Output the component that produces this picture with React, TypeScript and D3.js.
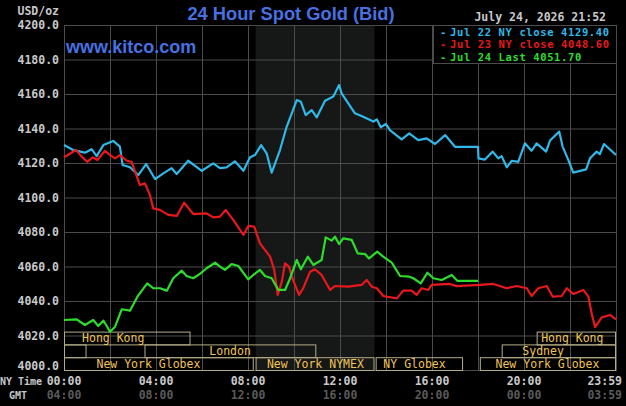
import React, { useEffect } from "react";
import * as d3 from "d3";

// hours since 00:00 NY time, price in USD/oz
const jul22: [number, number][] = [
  [0, 4130.4], [0.4, 4127.5], [0.91, 4126], [1.2, 4128], [1.42, 4124], [1.71, 4130.4],
  [2.14, 4132.8], [2.43, 4129.5], [2.55, 4118.8], [2.87, 4117.5], [3.23, 4113], [3.57, 4119.4],
  [3.96, 4110.7], [4.32, 4114], [4.68, 4117], [4.9, 4113.6], [5.4, 4121.3], [5.99, 4115.5],
  [6.49, 4119.8], [6.78, 4117], [7.07, 4117.5], [7.43, 4121], [7.8, 4115.5], [8.09, 4123.3],
  [8.3, 4124.6], [8.57, 4130.4], [8.81, 4125.6], [9.03, 4114.4], [9.39, 4127.5], [9.68, 4141],
  [10.12, 4156.5], [10.3, 4155.5], [10.51, 4147.8], [10.77, 4150.7], [10.99, 4146.5],
  [11.35, 4156.1], [11.71, 4158.5], [11.96, 4165.2], [12.07, 4160.4], [12.65, 4148.8],
  [13.01, 4146.8], [13.45, 4144], [13.6, 4145.3], [13.77, 4140.7], [14.0, 4142.6],
  [14.17, 4139.1], [14.68, 4133.7], [15.01, 4137.2], [15.4, 4133.3], [15.77, 4134.3],
  [16.13, 4131], [16.57, 4136.2], [17.0, 4129.4], [18.0, 4129.4], [18.02, 4122.7],
  [18.3, 4122], [18.64, 4126.6], [18.88, 4122.7], [19.03, 4124], [19.25, 4117.5],
  [19.47, 4121.3], [19.75, 4120.7], [20.04, 4131.4], [20.33, 4127.1], [20.55, 4131.4],
  [20.96, 4126.6], [21.13, 4133], [21.53, 4138.2], [21.68, 4129.5], [21.93, 4121.7],
  [22.14, 4114.4], [22.7, 4116.3], [22.87, 4122.7], [23.16, 4126.6], [23.3, 4125.2],
  [23.48, 4131], [24, 4124.6],
];

const jul23: [number, number][] = [
  [0, 4123.3], [0.52, 4127.5], [0.77, 4123.7], [1.01, 4120.7], [1.25, 4123.3], [1.45, 4121.7],
  [1.78, 4127.1], [2.0, 4124.6], [2.22, 4122.7], [2.43, 4124.6], [2.73, 4121.3], [2.94, 4120.7],
  [3.3, 4107.2], [3.52, 4108.2], [3.74, 4101.4], [3.88, 4093.7], [4.17, 4092.8], [4.53, 4089.9],
  [4.9, 4089.3], [5.22, 4097], [5.62, 4090.4], [6.2, 4090.8], [6.49, 4088.5], [6.78, 4088.9],
  [7.03, 4092.8], [7.36, 4087], [7.8, 4078.3], [8.01, 4083.5], [8.27, 4083.1], [8.52, 4073.4],
  [8.96, 4065.7], [9.14, 4058], [9.29, 4043.5], [9.47, 4051.2], [9.61, 4061.8], [9.78, 4059.9],
  [9.93, 4053.2], [10.22, 4043.5], [10.4, 4047.4], [10.7, 4057], [10.91, 4058.4], [11.2, 4055.1],
  [11.57, 4046.4], [11.78, 4048.7], [12.36, 4048.3], [12.94, 4049.3], [13.16, 4052.2],
  [13.38, 4048.3], [13.6, 4047.4], [13.88, 4042.9], [14.47, 4041.5], [14.75, 4046], [15.12, 4046],
  [15.33, 4043.5], [15.55, 4047.4], [15.84, 4046.4], [15.99, 4049.3], [16.78, 4049.9],
  [17.07, 4048.6], [18.09, 4049.3], [18.67, 4049.9], [19.25, 4047.4], [19.68, 4048.7],
  [20.12, 4047.4], [20.33, 4042.9], [20.62, 4047.4], [20.99, 4048.7], [21.25, 4042.5],
  [21.64, 4042.9], [21.86, 4047.4], [22.14, 4044.1], [22.58, 4046.4], [22.8, 4042.5],
  [22.94, 4032.9], [23.09, 4024.8], [23.38, 4030.5], [23.74, 4031.9], [24, 4029.4],
];

const jul24: [number, number][] = [
  [0, 4029], [0.55, 4029.4], [0.91, 4026.1], [1.27, 4029], [1.49, 4025.5], [1.71, 4028.6],
  [1.86, 4025.5], [2.0, 4022.2], [2.22, 4025.1], [2.51, 4035.2], [2.87, 4034.4], [3.19, 4042.5],
  [3.62, 4050.2], [3.88, 4047.4], [4.17, 4047.4], [4.47, 4046], [4.75, 4053.2], [5.12, 4057.6],
  [5.33, 4054.5], [5.62, 4053.2], [5.91, 4055.7], [6.2, 4059], [6.57, 4062.2], [6.78, 4059.9],
  [7.0, 4058], [7.29, 4061.4], [7.58, 4060.3], [8.01, 4052.5], [8.23, 4055.1], [8.52, 4058],
  [8.74, 4054.5], [9.03, 4053.2], [9.32, 4046.4], [9.61, 4046.4], [9.83, 4053.2], [10.12, 4063.8],
  [10.3, 4058.4], [10.6, 4065.7], [10.84, 4060.9], [11.2, 4063.8], [11.38, 4076.9], [11.64, 4075],
  [11.78, 4077.3], [11.96, 4073], [12.14, 4076.3], [12.51, 4075.4], [12.77, 4067.6],
  [13.09, 4067.2], [13.26, 4064.7], [13.62, 4068.6], [13.88, 4065.7], [14.25, 4062.2],
  [14.61, 4054.5], [15.01, 4054.1], [15.19, 4053.2], [15.51, 4050.2], [15.8, 4056.4],
  [16.06, 4053.2], [16.42, 4052.2], [16.86, 4055.1], [17.1, 4051.7], [18.0, 4051.7],
];

const yTicks = [4000, 4020, 4040, 4060, 4080, 4100, 4120, 4140, 4160, 4180, 4200];
const gridHours = [2, 4, 6, 8, 10, 12, 14, 16, 18, 20, 22];
const labelHours = [0, 4, 8, 12, 16, 20, 24];
const nyLabels = ["00:00", "04:00", "08:00", "12:00", "16:00", "20:00", "23:59"];
const gmtLabels = ["04:00", "08:00", "12:00", "16:00", "20:00", "00:00", "03:59"];

const legendNames = ["Jul 22 NY close 4129.40", "Jul 23 NY close 4048.60", "Jul 24 Last 4051.70"];
const legendColors = ["#2fb8e8", "#e8181c", "#2edc2e"];

// name, start hour, end hour, row, label centre hour
const sessions: [string, number, number, number, number][] = [
  ["Hong Kong", 0, 5.5, 0, 2.14],
  ["Hong Kong", 20.55, 24, 0, 22.1],
  ["", 0, 0.98, 1, 0],
  ["London", 3.5, 10.97, 1, 7.22],
  ["Sydney", 19.03, 24, 1, 20.83],
  ["New York Globex", 0, 8.25, 2, 3.67],
  ["New York NYMEX", 8.33, 13.5, 2, 10.93],
  ["NY Globex", 13.55, 17.35, 2, 15.24],
  ["New York Globex", 18.08, 24, 2, 21.02],
];
const nymexHours = [8.33, 13.5];

const mono = "'DejaVu Sans Mono', monospace";

export default function App() {
  useEffect(() => {
    document.body.style.margin = "0";
    document.body.style.background = "#000";
  }, []);

  const W = 626, H = 406;
  const x = d3.scaleLinear().domain([0, 24]).range([64, 616]);
  const y = d3.scaleLinear().domain([4000, 4200]).range([370, 25]);
  const line = d3.line<[number, number]>().x(d => x(d[0])).y(d => y(d[1]));
  const rowH = 12.8;
  const rowTop = (r: number) => y(4000) - (3 - r) * rowH;
  const fmt = d3.format(".1f");
  const grid = "#4c4c4c";

  return (
    <div style={{ position: "absolute", left: 0, top: 0, width: W, height: H, background: "#000" }}>
      <svg width={W} height={H} style={{ display: "block" }}>
        <rect x={0} y={0} width={W} height={H} fill="#000" />
        <rect x={x(nymexHours[0])} y={y(4200)} width={x(nymexHours[1]) - x(nymexHours[0])}
          height={y(4000) - y(4200)} fill="#151816" />
        {yTicks.map(t => (
          <line key={"h" + t} x1={x(0)} x2={x(24)} y1={y(t) + 0.5} y2={y(t) + 0.5} stroke={grid} />
        ))}
        {gridHours.map(h => (
          <line key={"v" + h} x1={Math.round(x(h)) + 0.5} x2={Math.round(x(h)) + 0.5}
            y1={y(4200)} y2={y(4000)} stroke={grid} />
        ))}
        <rect x={x(0) + 0.5} y={y(4200) + 0.5} width={x(24) - x(0)} height={y(4000) - y(4200)}
          fill="none" stroke={grid} />

        {yTicks.map(t => (
          <text key={"yl" + t} x={59} y={t === 4000 ? y(t) : y(t) + 4} textAnchor="end" fontFamily={mono}
            fontSize={11.5} fontWeight="bold" fill="#c8c8c8">{fmt(t)}</text>
        ))}
        <text x={59} y={15} textAnchor="end" fontFamily={mono} fontSize={11.5} fontWeight="bold"
          fill="#c8c8c8">USD/oz</text>

        <text x={66} y={53} fontFamily="'Liberation Sans', Arial, sans-serif" fontSize={18}
          fontWeight="bold" fill="#4870e0">www.kitco.com</text>
        <text x={291} y={20} textAnchor="middle" fontFamily="'Liberation Sans', Arial, sans-serif"
          fontSize={18.3} fontWeight="bold" fill="#4870e0">24 Hour Spot Gold (Bid)</text>
        <text x={606} y={20.5} textAnchor="end" fontFamily={mono} fontSize={11.5} fontWeight="bold"
          fill="#c8c8c8">July 24, 2026 21:52</text>

        {sessions.map((s, i) => (
          <g key={"s" + i}>
            <rect x={x(s[1]) + 0.5} y={rowTop(s[3]) + 0.5} width={x(s[2]) - x(s[1]) - 1}
              height={rowH} fill="none" stroke="#b4ac88" />
            {s[0] && (
              <text x={x(s[4])} y={rowTop(s[3]) + rowH - 2.5} textAnchor="middle" fontFamily={mono}
                fontSize={11.5} fill="#f0c456">{s[0]}</text>
            )}
          </g>
        ))}

        {[jul22, jul23, jul24].map((d, i) => (
          <path key={"l" + i} d={line(d) || ""} fill="none" stroke={legendColors[i]}
            strokeWidth={2.2} strokeLinejoin="round" />
        ))}

        <rect x={433.5} y={25.5} width={183} height={38} fill="#000" stroke={grid} />
        {legendNames.map((n, i) => (
          <g key={"lg" + i}>
            <text x={440} y={36 + i * 12.3} fontFamily={mono} fontSize={10.5} fontWeight="bold"
              fill={legendColors[i]}>-</text>
            <text x={450} y={36 + i * 12.3} fontFamily={mono} fontSize={10.5} fontWeight="bold"
              letterSpacing={0.62} fill={legendColors[i]}>{n}</text>
          </g>
        ))}

        <text x={0} y={385} fontFamily={mono} fontSize={10} fontWeight="bold" fill="#c8c8c8">NY Time</text>
        <text x={9} y={398.5} fontFamily={mono} fontSize={10} fontWeight="bold" fill="#c8c8c8">GMT</text>
        {labelHours.map((h, i) => (
          <g key={"xl" + h}>
            <text x={h === 24 ? 622 : x(h)} y={385} textAnchor={h === 24 ? "end" : "middle"}
              fontFamily={mono} fontSize={11.5} fontWeight="bold" fill="#c8c8c8">{nyLabels[i]}</text>
            <text x={h === 24 ? 622 : x(h)} y={398.5} textAnchor={h === 24 ? "end" : "middle"}
              fontFamily={mono} fontSize={11.5} fontWeight="bold" fill="#5a5a5a">{gmtLabels[i]}</text>
          </g>
        ))}
      </svg>
    </div>
  );
}
